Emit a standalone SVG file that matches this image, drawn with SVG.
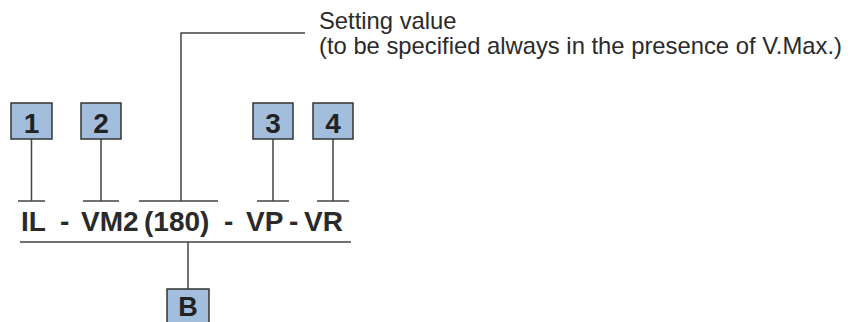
<svg xmlns="http://www.w3.org/2000/svg" width="859" height="322" viewBox="0 0 859 322">
<style>
.box{fill:#a3bedc;stroke:#333333;stroke-width:1.5}
.num{font-family:"Liberation Sans",Arial,sans-serif;font-weight:bold;font-size:28px;fill:#222;text-anchor:middle}
.code{font-family:"Liberation Sans",Arial,sans-serif;font-weight:bold;font-size:28px;fill:#2a2a2a}
.note{font-family:"Liberation Sans",Arial,sans-serif;font-size:23.8px;fill:#2a2a2a}
.ln{stroke:#444;stroke-width:1.5;fill:none}
</style>
<rect width="859" height="322" fill="#ffffff"/>
<g id="connectors">
<path class="ln" d="M31.5 139V201M18 201H45"/>
<path class="ln" d="M101 139V201M83 201H119"/>
<path class="ln" d="M273 139V201M257 201H289"/>
<path class="ln" d="M333 139V201M317 201H349"/>
<path class="ln" d="M139 201H218M181 201V33H305"/>
<path class="ln" d="M20 242H351M188 242V289"/>
</g>
<g id="node-1"><rect class="box" x="11" y="103" width="41" height="36"/><text class="num" x="31.5" y="133">1</text></g>
<g id="node-2"><rect class="box" x="81" y="103" width="40" height="36"/><text class="num" x="101" y="133">2</text></g>
<g id="node-3"><rect class="box" x="253" y="103" width="40" height="36"/><text class="num" x="273" y="133">3</text></g>
<g id="node-4"><rect class="box" x="313" y="103" width="40" height="36"/><text class="num" x="333" y="133">4</text></g>
<g id="node-B"><rect class="box" x="167" y="289" width="42" height="40"/><text class="num" x="188" y="316" style="font-size:27px">B</text></g>
<g id="code">
<text class="code" x="21" y="231">IL</text>
<text class="code" x="60" y="231">-</text>
<text class="code" x="81" y="231">VM2</text>
<text class="code" x="144" y="231">(180)</text>
<text class="code" x="224" y="231">-</text>
<text class="code" x="246" y="231">VP</text>
<text class="code" x="289" y="231">-</text>
<text class="code" x="304" y="231">VR</text>
</g>
<g id="note">
<text class="note" x="319" y="29">Setting value</text>
<text class="note" x="319" y="54">(to be specified always in the presence of V.Max.)</text>
</g>
</svg>
